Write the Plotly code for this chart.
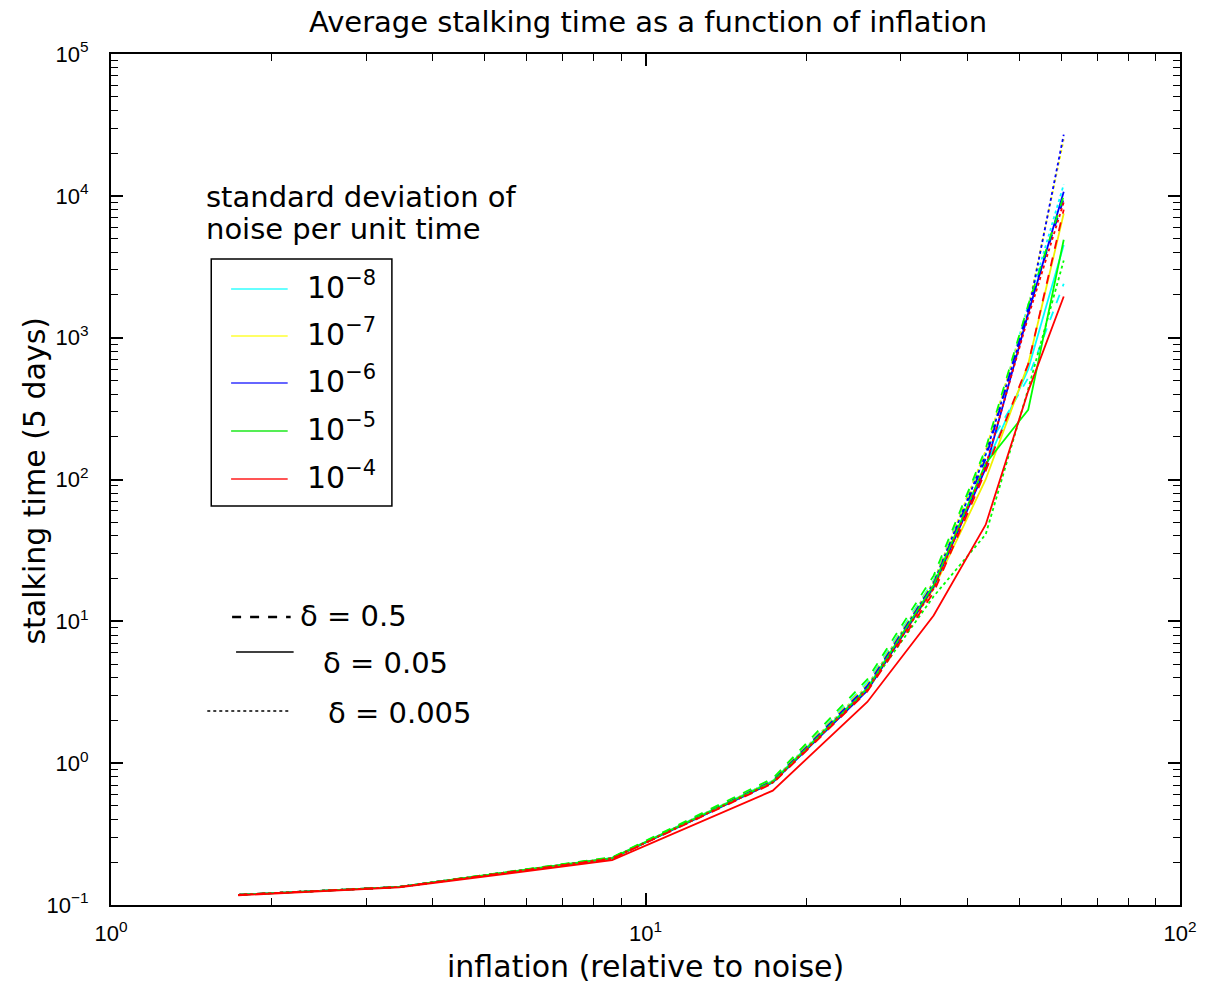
import plotly.graph_objects as go

# ---------------- data ----------------
inflation = [1.73, 3.46, 8.66, 17.3, 26.0, 34.6, 43.3, 52.0, 60.6]

noise_labels = ["10<sup>\u22128</sup>", "10<sup>\u22127</sup>", "10<sup>\u22126</sup>",
                "10<sup>\u22125</sup>", "10<sup>\u22124</sup>"]
noise_colors = ["#00ffff", "#f0f000", "#0000ff", "#00ff00", "#ff0000"]
legend_colors = ["#66ffff", "#ffff66", "#6666ff", "#55ee55", "#ff5555"]

deltas = ["0.5", "0.05", "0.005"]
delta_dash = ["dash", "solid", "dot"]

# stalking time [noise][delta]
cyan_d05 = [0.118, 0.134, 0.216, 0.76, 3.7, 19.5, 160, 520, 2400]
cyan_d005 = [0.118, 0.134, 0.215, 0.75, 3.4, 18, 125, 600, 4500]
cyan_d0005 = [0.118, 0.134, 0.215, 0.75, 3.5, 19, 150, 1700, 12000]
yellow_d05 = [0.118, 0.134, 0.216, 0.76, 3.6, 19, 145, 1500, 10000]
yellow_d005 = [0.118, 0.134, 0.214, 0.74, 3.3, 17, 100, 650, 7500]
yellow_d0005 = [0.118, 0.134, 0.215, 0.75, 3.5, 19, 160, 1600, 25000]
blue_d05 = [0.118, 0.134, 0.215, 0.75, 3.5, 18.5, 140, 1600, 9500]
blue_d005 = [0.118, 0.134, 0.213, 0.73, 3.25, 17.5, 120, 1480, 10700]
blue_d0005 = [0.118, 0.134, 0.214, 0.74, 3.4, 18.5, 150, 1500, 27000]
green_d05 = [0.118, 0.134, 0.217, 0.78, 3.9, 21, 165, 1700, 10000]
green_d005 = [0.118, 0.134, 0.214, 0.74, 3.35, 18, 130, 310, 4900]
green_d0005 = [0.118, 0.134, 0.213, 0.73, 3.3, 15, 41, 435, 3500]
red_d05 = [0.118, 0.134, 0.212, 0.72, 3.2, 16, 115, 650, 8000]
red_d005 = [0.117, 0.133, 0.207, 0.64, 2.7, 11, 48, 420, 1950]
red_d0005 = [0.118, 0.134, 0.213, 0.73, 3.3, 17, 125, 1400, 9000]

series = [
    [cyan_d05, cyan_d005, cyan_d0005],
    [yellow_d05, yellow_d005, yellow_d0005],
    [blue_d05, blue_d005, blue_d0005],
    [green_d05, green_d005, green_d0005],
    [red_d05, red_d005, red_d0005],
]

x_tickvals = [1, 10, 100]
x_ticktext = ["10<sup>0</sup>", "10<sup>1</sup>", "10<sup>2</sup>"]
y_tickvals = [0.1, 1, 10, 100, 1000, 10000, 100000]
y_ticktext = ["10<sup>\u22121</sup>", "10<sup>0</sup>", "10<sup>1</sup>", "10<sup>2</sup>",
              "10<sup>3</sup>", "10<sup>4</sup>", "10<sup>5</sup>"]

# ---------------- layout helpers ----------------
W, H = 1209, 984
L, R, T, B = 111, 1188, 54, 905


def px(x):
    return (x - L) / (R - L)


def py(y):
    return (B - y) / (B - T)


FONT = "DejaVu Sans, Liberation Sans, Arial, sans-serif"
TICKFONT = "Liberation Sans, Arial, Helvetica, sans-serif"

fig = go.Figure()
for i, row in enumerate(series):
    for j, vals in enumerate(row):
        fig.add_trace(go.Scatter(
            x=inflation, y=vals, mode="lines",
            line=dict(color=noise_colors[i], width=1.8, dash=delta_dash[j]),
            showlegend=False, hoverinfo="skip"))

minor_x = [k * 10 ** e for e in range(0, 2) for k in range(2, 10)]
minor_y = [k * 10 ** e for e in range(-1, 5) for k in range(2, 10)]

axis_common = dict(
    showgrid=False, zeroline=False, showline=True, linecolor="black", linewidth=2,
    mirror="allticks", ticks="inside", ticklen=12, tickwidth=1.5, tickcolor="black",
    tickfont=dict(family=TICKFONT, size=22, color="black"),
)

fig.update_xaxes(type="log", range=[0, 2], tickmode="array",
                 tickvals=x_tickvals, ticktext=x_ticktext,
                 minor=dict(tickmode="array", tickvals=minor_x, ticks="inside",
                            ticklen=7, tickwidth=1.2, tickcolor="black", showgrid=False),
                 ticklabelstandoff=8, **axis_common)
fig.update_yaxes(type="log", range=[-1, 5], tickmode="array",
                 tickvals=y_tickvals, ticktext=y_ticktext,
                 minor=dict(tickmode="array", tickvals=minor_y, ticks="inside",
                            ticklen=7, tickwidth=1.2, tickcolor="black", showgrid=False),
                 ticklabelstandoff=16, **axis_common)

shapes = []
annotations = []


def text(t, x, y, size, xanchor="left", angle=0):
    annotations.append(dict(text=t, x=px(x), y=py(y), xref="paper", yref="paper",
                            xanchor=xanchor, yanchor="middle", showarrow=False,
                            textangle=angle,
                            font=dict(family=FONT, size=size, color="black")))


# title and axis titles
text("Average stalking time as a function of inflation", 652, 22, 29, "center")
text("inflation (relative to noise)", 650, 966, 30, "center")
text("stalking time (5 days)", 33, 481, 30, "center", -90)

# noise legend
text("standard deviation of", 205, 197, 29)
text("noise per unit time", 205, 229, 29)
shapes.append(dict(type="rect", xref="paper", yref="paper",
                   x0=px(212), x1=px(394), y0=py(259), y1=py(506),
                   line=dict(color="black", width=1.5), fillcolor="rgba(0,0,0,0)"))
entry_y = [289, 336, 383, 431, 479]
for i in range(5):
    shapes.append(dict(type="line", xref="paper", yref="paper",
                       x0=px(232), x1=px(289), y0=py(entry_y[i]), y1=py(entry_y[i]),
                       line=dict(color=legend_colors[i], width=2)))
    text(noise_labels[i], 306, entry_y[i] - 4, 30)

# delta legend
delta_line = [(233, 292, 617), (237, 295, 652), (208, 290, 711)]
delta_text = [(299, 616), (323, 663), (328, 713)]
for j in range(3):
    x0, x1, yy = delta_line[j]
    shapes.append(dict(type="line", xref="paper", yref="paper",
                       x0=px(x0), x1=px(x1), y0=py(yy), y1=py(yy),
                       line=dict(color="black", width=2.5 if j == 0 else 1.5,
                                 dash="dash" if j == 0 else ("solid" if j == 1 else "dot"))))
    tx, ty = delta_text[j]
    text("\u03b4 = " + deltas[j], tx, ty, 29)

fig.update_layout(
    width=W, height=H, autosize=False,
    margin=dict(l=L, r=W - R, t=T, b=H - B, pad=0),
    paper_bgcolor="white", plot_bgcolor="white",
    shapes=shapes, annotations=annotations, showlegend=False,
)

fig.write_html("out.html")
